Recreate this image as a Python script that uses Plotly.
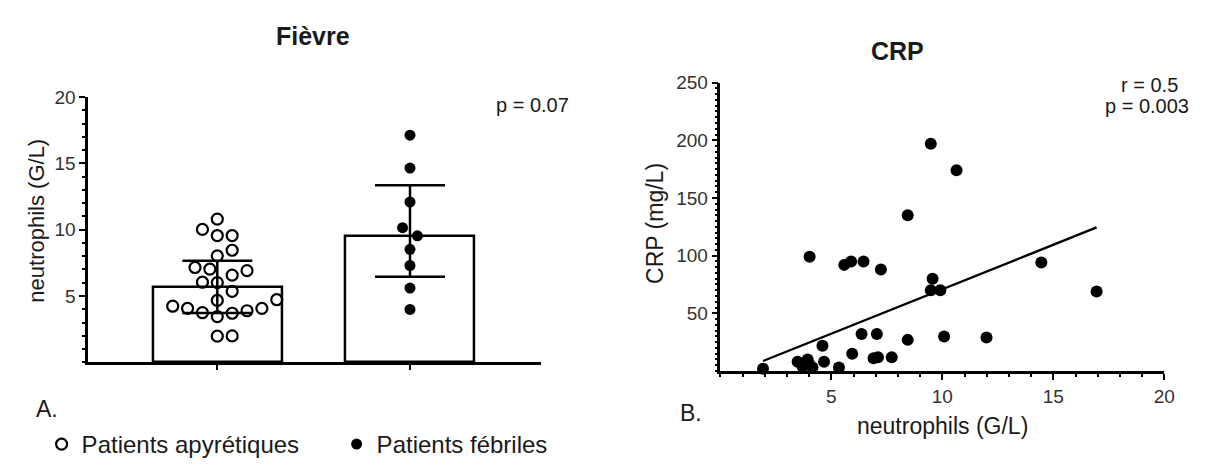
import plotly.graph_objects as go

# ---------------- data ----------------
groups = ["Patients apyrétiques", "Patients fébriles"]
apyretic_vals = [10.80, 9.56, 9.56, 10.02, 8.45, 8.03, 6.91, 7.15, 7.03, 6.57, 6.04, 6.01,
                 5.35, 4.72, 4.67, 4.07, 3.89, 3.70, 3.45, 3.74, 4.07, 4.23, 1.97, 1.99]
febrile_vals = [17.13, 14.65, 12.09, 10.15, 9.54, 8.52, 7.30, 5.60, 3.99]
bar_means = [5.69, 9.54]
err_plus = [1.97, 3.82]
err_minus = [1.97, 3.09]

crp_neutro = [9.48, 10.64, 8.44, 4.02, 5.58, 5.89, 6.45, 7.23, 14.46, 9.56, 9.48, 9.91,
              16.95, 10.08, 11.99, 8.44, 6.36, 7.05, 4.60, 5.94, 6.90, 7.10, 7.72, 4.67,
              5.34, 3.48, 3.93, 3.70, 4.15, 4.00, 1.92]
crp_vals = [197, 174, 135, 99, 92, 95, 95, 88, 94, 80, 70, 70,
            69, 30, 29, 27, 32, 32, 22, 15, 11, 12, 12, 8,
            3, 8, 10, 4, 3, 6, 2]
fit_slope = 7.7
fit_intercept = -6.1

left_yticks = [5, 10, 15, 20]
right_xticks = [5, 10, 15, 20]
right_yticks = [50, 100, 150, 200, 250]

# ---------------- layout geometry ----------------
W, H = 1208, 467
FONT = "Liberation Sans, Arial, sans-serif"
TXT = "#1a1a1a"

lx0, lx1 = 89, 546      # left panel x pixels
ly0, ly1 = 90, 364      # left panel y pixels (top, bottom)
rx0, rx1 = 727, 1175
ry0, ry1 = 75, 373
left_xrange = [-0.67, 1.68]
left_yrange = [0, 20]

px_per_unit_x = (lx1 - lx0) / (left_xrange[1] - left_xrange[0])
px_per_unit_y = (ly1 - ly0) / (left_yrange[1] - left_yrange[0])


def swarm(vals, d_px=15.0, step_px=7.5):
    order = sorted(range(len(vals)), key=lambda i: vals[i])
    placed = []
    offs = [0.0] * len(vals)
    cands = [0.0]
    for k in range(1, 30):
        cands += [k * step_px, -k * step_px]
    for i in order:
        y = vals[i] * px_per_unit_y
        for c in cands:
            if all((c - ox) ** 2 + (y - oy) ** 2 >= d_px ** 2 for ox, oy in placed):
                break
        placed.append((c, y))
        offs[i] = c / px_per_unit_x
    return offs


ap_off = swarm(apyretic_vals)
fe_off = swarm(febrile_vals)

fig = go.Figure()

fig.add_trace(go.Bar(
    x=[0, 1], y=bar_means, width=0.67,
    marker=dict(color="white", line=dict(color="black", width=2.5)),
    error_y=dict(type="data", array=err_plus, arrayminus=err_minus, symmetric=False,
                 color="black", thickness=2.5, width=35),
    showlegend=False, xaxis="x", yaxis="y"))

fig.add_trace(go.Scatter(
    x=[0 + o for o in ap_off], y=apyretic_vals, mode="markers", name=groups[0],
    marker=dict(symbol="circle-open", size=11, color="black", line=dict(width=2.2)),
    xaxis="x", yaxis="y"))

fig.add_trace(go.Scatter(
    x=[1 + o for o in fe_off], y=febrile_vals, mode="markers", name=groups[1],
    marker=dict(symbol="circle", size=11, color="black"),
    xaxis="x", yaxis="y"))

fig.add_trace(go.Scatter(
    x=crp_neutro, y=crp_vals, mode="markers", showlegend=False, cliponaxis=False,
    marker=dict(symbol="circle", size=12, color="black"),
    xaxis="x2", yaxis="y2"))

xfit = [min(crp_neutro), max(crp_neutro)]
yfit = [fit_intercept + fit_slope * v for v in xfit]
fig.add_trace(go.Scatter(
    x=xfit, y=yfit, mode="lines", showlegend=False, cliponaxis=False,
    line=dict(color="black", width=2.4), xaxis="x2", yaxis="y2"))

tickfont = dict(family=FONT, size=19, color="#333333")
axis_common = dict(showline=True, linecolor="black", linewidth=2.5, showgrid=False,
                   zeroline=False, ticks="outside", tickcolor="black", tickwidth=2,
                   ticklen=6, tickfont=tickfont)
minor_style = dict(tickmode="linear", tick0=0, ticks="outside", ticklen=3,
                   tickwidth=1.5, tickcolor="black")

fig.update_layout(
    width=W, height=H, autosize=False,
    margin=dict(l=0, r=0, t=0, b=0),
    paper_bgcolor="white", plot_bgcolor="white",
    font=dict(family=FONT, color=TXT),
    xaxis=dict(domain=[lx0 / W, lx1 / W], range=left_xrange, tickvals=[0, 1],
               showticklabels=False, anchor="y",
               **{k: v for k, v in axis_common.items() if k != "ticklen"}, ticklen=5),
    yaxis=dict(domain=[1 - ly1 / H, 1 - ly0 / H], range=left_yrange, tickvals=left_yticks,
               anchor="x", minor=dict(dtick=1, **minor_style), **axis_common),
    xaxis2=dict(domain=[rx0 / W, rx1 / W], range=[0, 20], tickvals=right_xticks, anchor="y2",
                minor=dict(dtick=1, **minor_style), **axis_common),
    yaxis2=dict(domain=[1 - ry1 / H, 1 - ry0 / H], range=[0, 250], tickvals=right_yticks,
                anchor="x2", minor=dict(dtick=5, **minor_style), **axis_common),
    bargap=0,
    legend=dict(orientation="h", x=42 / W, y=1 - 449 / H, xanchor="left", yanchor="middle",
                font=dict(family=FONT, size=24, color=TXT), entrywidth=250,
                entrywidthmode="pixels", bgcolor="rgba(0,0,0,0)", itemsizing="trace"),
)


def ann(text, x, y, size, bold=False, angle=0, xanchor="center"):
    fig.add_annotation(text=f"<b>{text}</b>" if bold else text, x=x / W, y=1 - y / H,
                       xref="paper", yref="paper", showarrow=False, textangle=angle,
                       xanchor=xanchor, yanchor="middle", align="center",
                       font=dict(family=FONT, size=size, color=TXT))


ann("Fièvre", 316, 27, 25, bold=True)
ann("CRP", 906, 42, 25, bold=True)
ann("p = 0.07", 537, 98, 20)
ann("r = 0.5", 1160, 78, 20)
ann("p = 0.003", 1158, 99, 20)
ann("A.", 47, 412, 23)
ann("B.", 697, 416, 23)
ann("neutrophils (G/L)", 37, 218, 22, angle=-90)
ann("CRP (mg/L)", 661, 220, 23, angle=-90)
ann("neutrophils (G/L)", 951, 430, 23)

fig.write_html("out.html", config={"displayModeBar": False},
               post_script="document.body.style.margin='0';")
